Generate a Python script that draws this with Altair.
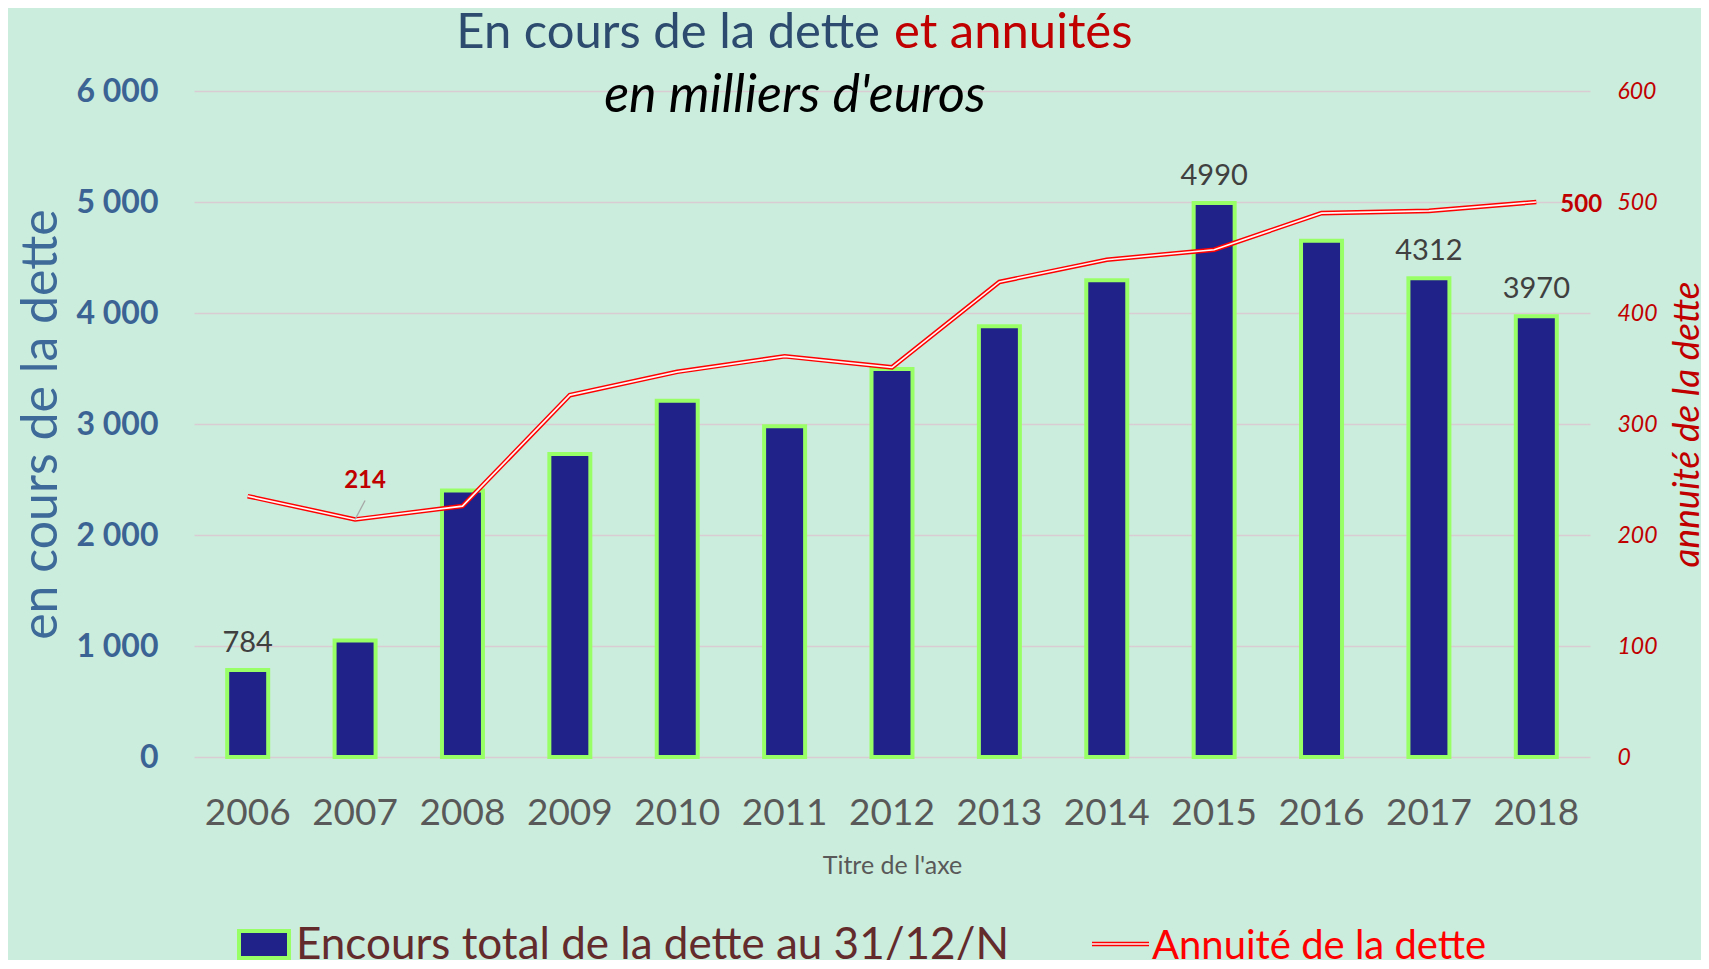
import altair as alt
import pandas as pd

# ---------------- data ----------------
years = ["2006", "2007", "2008", "2009", "2010", "2011", "2012",
         "2013", "2014", "2015", "2016", "2017", "2018"]
encours = [784, 1050, 2400, 2730, 3210, 2980, 3495, 3880, 4295, 4990, 4650, 4312, 3970]
annuites = [235, 214, 226, 326, 347, 361, 351, 428, 448, 457, 490, 492, 500]
encours_label_years = ["2006", "2015", "2017", "2018"]
annuite_label_mid = "2007"
annuite_label_end = "2018"
left_ticks = [0, 1000, 2000, 3000, 4000, 5000, 6000]
right_ticks = [0, 100, 200, 300, 400, 500, 600]

title_main = "En cours de la dette"
title_red = "et annuités"
subtitle = "en milliers d'euros"
legend_bar = "Encours total de la dette au 31/12/N"
legend_line = "Annuité de la dette"

df = pd.DataFrame({"Année": years, "Encours": encours, "Annuité": annuites})
df["lab_enc"] = [str(v) if y in encours_label_years else "" for y, v in zip(years, encours)]

W, H = 1396, 666
FONT = "Lato"
one = pd.DataFrame({"k": [0]})

base = alt.Chart(df)

x = alt.X("Année:N", sort=years,
          scale=alt.Scale(paddingInner=0, paddingOuter=0),
          axis=alt.Axis(labelAngle=0, labelFont=FONT, labelFontSize=37, labelColor="#595959",
                        labelPadding=38, ticks=False, domain=False, grid=False,
                        title="Titre de l'axe", titleFont=FONT, titleFontSize=25,
                        titleFontWeight="normal", titleColor="#595959",
                        titleY=116, titleBaseline="alphabetic"))

y_left = alt.Y("Encours:Q",
               scale=alt.Scale(domain=[0, 6000], nice=False),
               axis=alt.Axis(orient="left", values=left_ticks,
                             labelExpr="replace(format(datum.value, ','), ',', ' ')",
                             labelFont=FONT, labelFontWeight="bold", labelFontSize=32,
                             labelColor="#3B6494", labelPadding=36, ticks=False, domain=False,
                             grid=True, gridColor="#D9CDD3", gridWidth=1.4,
                             title="en cours de la dette", titleFont=FONT, titleFontSize=50,
                             titleFontWeight="normal", titleColor="#3D6A98",
                             titleAngle=270, titleX=-153, titleY=333,
                             titleAlign="center", titleBaseline="middle"))

y_right = alt.Y("Annuité:Q",
                scale=alt.Scale(domain=[0, 600], nice=False),
                axis=alt.Axis(orient="right", values=right_ticks,
                              labelFont=FONT, labelFontStyle="italic", labelFontSize=23,
                              labelColor="#C00000", labelPadding=27, ticks=False, domain=False,
                              grid=False,
                              title="annuité de la dette", titleFont=FONT, titleFontSize=37,
                              titleFontStyle="italic", titleFontWeight="normal",
                              titleColor="#C00000", titleAngle=270, titleX=97, titleY=333,
                              titleAlign="center", titleBaseline="middle"))

bars = base.mark_bar(size=41, color="#21218A", stroke="#99FF66", strokeWidth=4).encode(x=x, y=y_left)
bar_text = base.mark_text(font=FONT, fontSize=29, color="#404040", baseline="alphabetic", dy=-18).encode(
    x=x, y=y_left, text="lab_enc:N")
left_group = alt.layer(bars, bar_text)

line_red = base.mark_line(color="#FF0000", strokeWidth=4.6).encode(x=x, y=y_right)
line_white = base.mark_line(color="#FFF6F6", strokeWidth=1.7).encode(x=x, y=y_right)
leader = base.transform_filter(alt.datum["Année"] == annuite_label_mid).mark_rule(
    color="#A6A6A6", strokeWidth=1.3, x2Offset=10, y2Offset=-19).encode(
    x=x, x2=alt.X2("Année"), y=y_right, y2=alt.Y2("Annuité"))
lab_mid = base.transform_filter(alt.datum["Année"] == annuite_label_mid).mark_text(
    font=FONT, fontSize=24, fontWeight="bold", color="#C00000", baseline="alphabetic",
    dx=10, dy=-31).encode(x=x, y=y_right, text="Annuité:Q")
lab_end = base.transform_filter(alt.datum["Année"] == annuite_label_end).mark_text(
    font=FONT, fontSize=24, fontWeight="bold", color="#C00000", baseline="middle",
    align="left", dx=24, dy=3).encode(x=x, y=y_right, text="Annuité:Q")
right_group = alt.layer(line_red, line_white, leader, lab_mid, lab_end)

# titles
t1 = alt.Chart(one).mark_text(text=title_main, font=FONT, fontSize=49, color="#2C4B6E",
                              align="right", baseline="alphabetic").encode(
    x=alt.value(686), y=alt.value(-43))
t2 = alt.Chart(one).mark_text(text=title_red, font=FONT, fontSize=49, color="#C00000",
                              align="left", baseline="alphabetic").encode(
    x=alt.value(700), y=alt.value(-43))
t3 = alt.Chart(one).mark_text(text=subtitle, font=FONT, fontSize=52, fontStyle="italic",
                              color="#000000", align="center", baseline="alphabetic").encode(
    x=alt.value(601), y=alt.value(21))

# legend
lg_rect = alt.Chart(one).mark_rect(fill="#21218A", stroke="#99FF66", strokeWidth=4).encode(
    x=alt.value(45), x2=alt.value(95), y=alt.value(840), y2=alt.value(867))
lg_line_r = alt.Chart(one).mark_rule(color="#FF0000", strokeWidth=4.6).encode(
    x=alt.value(898), x2=alt.value(955), y=alt.value(853))
lg_line_w = alt.Chart(one).mark_rule(color="#FFF6F6", strokeWidth=1.7).encode(
    x=alt.value(898), x2=alt.value(955), y=alt.value(853))
lg_t1 = alt.Chart(one).mark_text(text=legend_bar, font=FONT, fontSize=44, color="#632B2B",
                                 align="left", baseline="alphabetic").encode(
    x=alt.value(102), y=alt.value(868))
lg_t2 = alt.Chart(one).mark_text(text=legend_line, font=FONT, fontSize=40, color="#FF0000",
                                 align="left", baseline="alphabetic").encode(
    x=alt.value(958), y=alt.value(868))

chart = alt.layer(left_group, right_group, t1, t2, t3,
                  lg_rect, lg_line_r, lg_line_w, lg_t1, lg_t2).resolve_scale(
    y="independent"
).properties(
    width=W, height=H,
    autosize=alt.AutoSizeParams(type="none"),
    padding={"left": 186, "top": 83, "right": 111, "bottom": 203},
    background="#CBEDDD",
).configure_view(stroke=None)

chart.save("out.html", embed_options={"renderer": "svg", "actions": False})
